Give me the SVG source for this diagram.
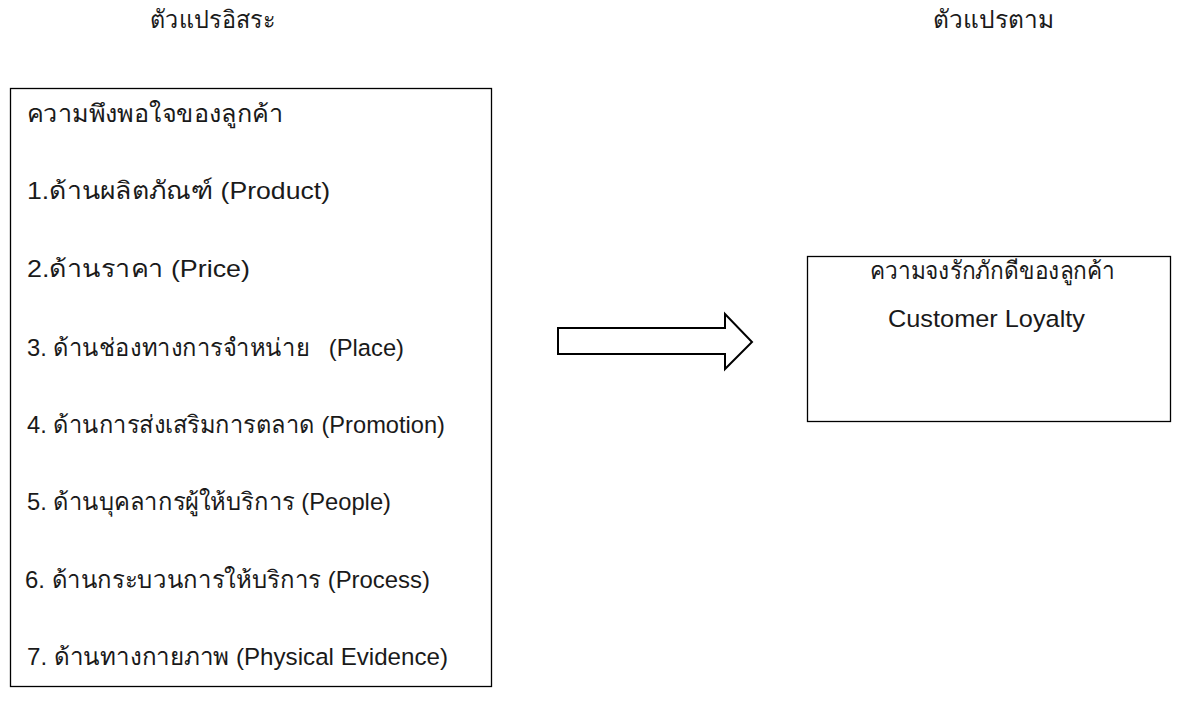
<svg xmlns="http://www.w3.org/2000/svg" width="1193" height="708" viewBox="0 0 1193 708">
<style>
.t{font-family:"Liberation Sans","Noto Sans",sans-serif;font-size:24.5px;fill:#1a1a1a}
.box{fill:#fff;stroke:#000;stroke-width:1.3}
.c{text-anchor:middle}
</style>
<rect width="1193" height="708" fill="#fff"/>
<g id="header-independent"><text class="t c" x="212.5" y="28" textLength="125" lengthAdjust="spacingAndGlyphs">ตัวแปรอิสระ</text></g>
<g id="header-dependent"><text class="t c" x="993" y="28">ตัวแปรตาม</text></g>
<g id="node-satisfaction">
<rect class="box" x="10.5" y="88.5" width="481" height="598"/>
<text class="t" x="27" y="122" textLength="256" lengthAdjust="spacingAndGlyphs">ความพึงพอใจของลูกค้า</text>
<text class="t" x="27" y="199" textLength="303" lengthAdjust="spacingAndGlyphs">1.ด้านผลิตภัณฑ์ (Product)</text>
<text class="t" x="27" y="277" textLength="223" lengthAdjust="spacingAndGlyphs">2.ด้านราคา (Price)</text>
<text class="t" x="27" y="356" xml:space="preserve" textLength="377" lengthAdjust="spacingAndGlyphs">3. ด้านช่องทางการจำหน่าย   (Place)</text>
<text class="t" x="27" y="433" textLength="418" lengthAdjust="spacingAndGlyphs">4. ด้านการส่งเสริมการตลาด (Promotion)</text>
<text class="t" x="27" y="510" textLength="364" lengthAdjust="spacingAndGlyphs">5. ด้านบุคลากรผู้ให้บริการ (People)</text>
<text class="t" x="25" y="588" textLength="405" lengthAdjust="spacingAndGlyphs">6. ด้านกระบวนการให้บริการ (Process)</text>
<text class="t" x="27" y="665" textLength="421" lengthAdjust="spacingAndGlyphs">7. ด้านทางกายภาพ (Physical Evidence)</text>
</g>
<g id="connectors">
<path d="M558,328 H725 V314 L752,342 L725,369 V354 H558 Z" fill="#fff" stroke="#000" stroke-width="2" stroke-linejoin="miter"/>
</g>
<g id="node-loyalty">
<rect class="box" x="807.5" y="256.5" width="363" height="165"/>
<text class="t c" x="992.5" y="279" textLength="245" lengthAdjust="spacingAndGlyphs">ความจงรักภักดีของลูกค้า</text>
<text class="t c" x="986.5" y="327" textLength="197" lengthAdjust="spacingAndGlyphs">Customer Loyalty</text>
</g>
</svg>
